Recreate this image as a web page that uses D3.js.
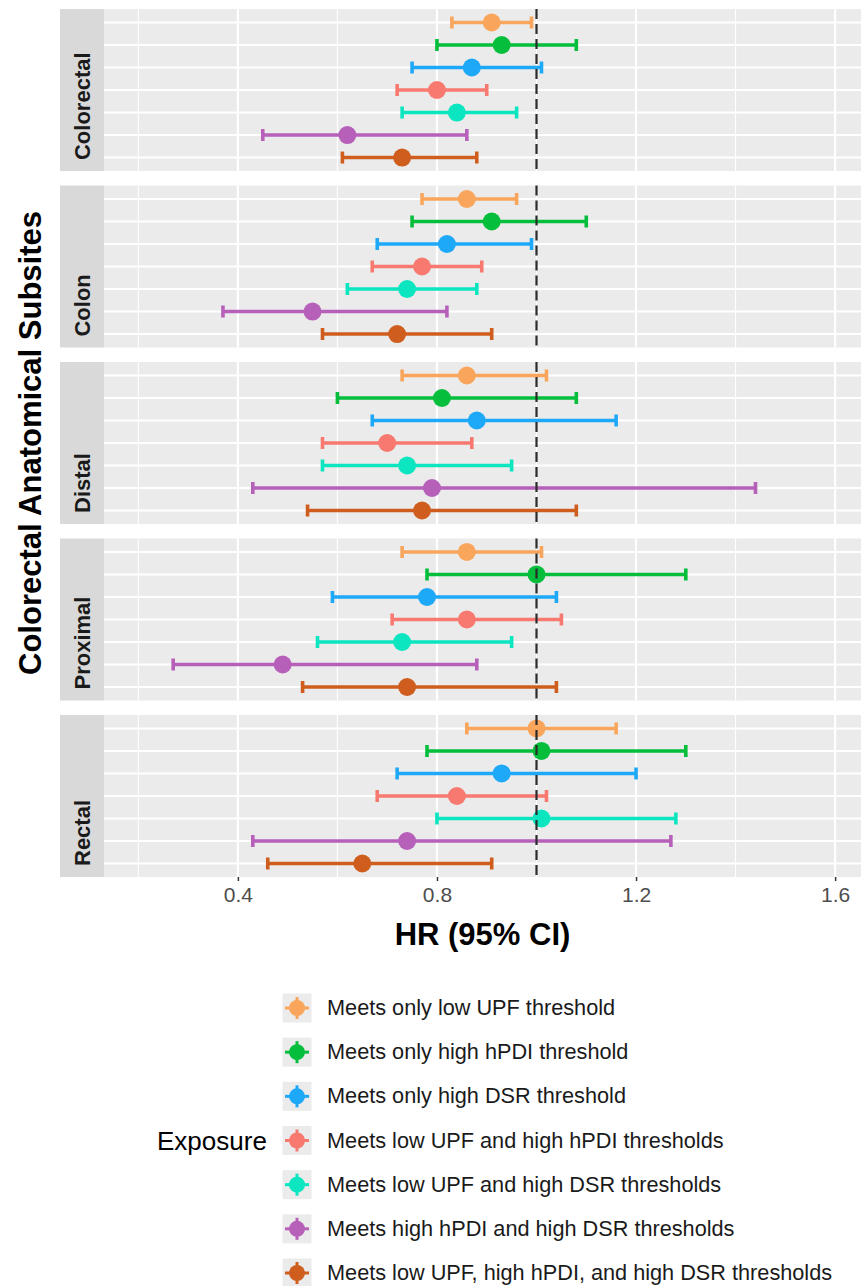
<!DOCTYPE html>
<html>
<head>
<meta charset="utf-8">
<script src="https://cdn.jsdelivr.net/npm/d3@7"></script>
<style>
  html, body { margin: 0; padding: 0; background: #ffffff; }
  svg { display: block; font-family: "Liberation Sans", Arial, Helvetica, sans-serif; }
</style>
</head>
<body>
<svg id="chart" width="861" height="1286"></svg>
<script>
// ---- data ----
const subsites = ["Colorectal", "Colon", "Distal", "Proximal", "Rectal"];
const exposures = [
  "Meets only low UPF threshold",
  "Meets only high hPDI threshold",
  "Meets only high DSR threshold",
  "Meets low UPF and high hPDI thresholds",
  "Meets low UPF and high DSR thresholds",
  "Meets high hPDI and high DSR thresholds",
  "Meets low UPF, high hPDI, and high DSR thresholds"
];
const exposureColors = ["#F9A65C", "#05BE3C", "#1EA8F8", "#F8796F", "#0BE6C0", "#B660BA", "#CF5E1E"];

// HR point estimates per subsite (rows follow exposures order)
const hrColorectal = [0.91, 0.93, 0.87, 0.80, 0.84, 0.62, 0.73];
const hrColon      = [0.86, 0.91, 0.82, 0.77, 0.74, 0.55, 0.72];
const hrDistal     = [0.86, 0.81, 0.88, 0.70, 0.74, 0.79, 0.77];
const hrProximal   = [0.86, 1.00, 0.78, 0.86, 0.73, 0.49, 0.74];
const hrRectal     = [1.00, 1.01, 0.93, 0.84, 1.01, 0.74, 0.65];

const loColorectal = [0.83, 0.80, 0.75, 0.72, 0.73, 0.45, 0.61];
const loColon      = [0.77, 0.75, 0.68, 0.67, 0.62, 0.37, 0.57];
const loDistal     = [0.73, 0.60, 0.67, 0.57, 0.57, 0.43, 0.54];
const loProximal   = [0.73, 0.78, 0.59, 0.71, 0.56, 0.27, 0.53];
const loRectal     = [0.86, 0.78, 0.72, 0.68, 0.80, 0.43, 0.46];

const hiColorectal = [0.99, 1.08, 1.01, 0.90, 0.96, 0.86, 0.88];
const hiColon      = [0.96, 1.10, 0.99, 0.89, 0.88, 0.82, 0.91];
const hiDistal     = [1.02, 1.08, 1.16, 0.87, 0.95, 1.44, 1.08];
const hiProximal   = [1.01, 1.30, 1.04, 1.05, 0.95, 0.88, 1.04];
const hiRectal     = [1.16, 1.30, 1.20, 1.02, 1.28, 1.27, 0.91];

const majorTicks = [0.4, 0.8, 1.2, 1.6];
const minorTicks = [0.2, 0.6, 1.0, 1.4];
const refLine = 1.0;

const hrBySite = [hrColorectal, hrColon, hrDistal, hrProximal, hrRectal];
const loBySite = [loColorectal, loColon, loDistal, loProximal, loRectal];
const hiBySite = [hiColorectal, hiColon, hiDistal, hiProximal, hiRectal];

const rows = [];
subsites.forEach((s, i) => {
  exposures.forEach((e, j) => {
    rows.push({site: s, exposure: e, hr: hrBySite[i][j], lo: loBySite[i][j], hi: hiBySite[i][j], color: exposureColors[j]});
  });
});

// ---- layout ----
const svg = d3.select("#chart");
const stripX0 = 60, panelX0 = 104, panelX1 = 861;
const x = d3.scaleLinear().domain([0.131, 1.652]).range([panelX0, panelX1]);
const facet = d3.scaleBand().domain(subsites).range([9, 877]).paddingInner(0.082);
const color = d3.scaleOrdinal().domain(exposures).range(exposureColors);

subsites.forEach((s) => {
  const top = facet(s), h = facet.bandwidth();
  const y = d3.scalePoint().domain(exposures).range([top, top + h]).padding(0.6);
  const g = svg.append("g");

  // strip
  g.append("rect").attr("x", stripX0).attr("y", top).attr("width", panelX0 - stripX0).attr("height", h).attr("fill", "#D9D9D9");
  g.append("text")
    .attr("transform", `translate(${(stripX0 + panelX0) / 2 + 8},${top + h - 11}) rotate(-90)`)
    .attr("text-anchor", "start")
    .attr("font-size", 22).attr("font-weight", "bold").attr("fill", "#1A1A1A")
    .text(s);

  // panel background
  g.append("rect").attr("x", panelX0).attr("y", top).attr("width", panelX1 - panelX0).attr("height", h).attr("fill", "#EBEBEB");

  // grid
  g.selectAll(".minor").data(minorTicks).enter().append("line")
    .attr("x1", d => x(d)).attr("x2", d => x(d)).attr("y1", top).attr("y2", top + h)
    .attr("stroke", "#ffffff").attr("stroke-width", 1.1);
  g.selectAll(".major").data(majorTicks).enter().append("line")
    .attr("x1", d => x(d)).attr("x2", d => x(d)).attr("y1", top).attr("y2", top + h)
    .attr("stroke", "#ffffff").attr("stroke-width", 2.2);
  g.selectAll(".hgrid").data(exposures).enter().append("line")
    .attr("x1", panelX0).attr("x2", panelX1).attr("y1", d => y(d)).attr("y2", d => y(d))
    .attr("stroke", "#ffffff").attr("stroke-width", 2.2);

  const data = rows.filter(r => r.site === s);
  const cap = 6;
  const sw = 3.6;
  const eb = g.selectAll(".eb").data(data).enter().append("g");
  eb.append("line").attr("x1", d => x(d.lo)).attr("x2", d => x(d.hi)).attr("y1", d => y(d.exposure)).attr("y2", d => y(d.exposure))
    .attr("stroke", d => color(d.exposure)).attr("stroke-width", sw);
  eb.append("line").attr("x1", d => x(d.lo)).attr("x2", d => x(d.lo)).attr("y1", d => y(d.exposure) - cap).attr("y2", d => y(d.exposure) + cap)
    .attr("stroke", d => color(d.exposure)).attr("stroke-width", sw);
  eb.append("line").attr("x1", d => x(d.hi)).attr("x2", d => x(d.hi)).attr("y1", d => y(d.exposure) - cap).attr("y2", d => y(d.exposure) + cap)
    .attr("stroke", d => color(d.exposure)).attr("stroke-width", sw);
  eb.append("circle").attr("cx", d => x(d.hr)).attr("cy", d => y(d.exposure)).attr("r", 9)
    .attr("fill", d => color(d.exposure));

  // reference line
  g.append("line").attr("x1", x(refLine)).attr("x2", x(refLine)).attr("y1", top).attr("y2", top + h)
    .attr("stroke", "#2B2B2B").attr("stroke-width", 2.2).attr("stroke-dasharray", "10,5");
});

// x axis
const lastBottom = facet(subsites[subsites.length - 1]) + facet.bandwidth();
const xAxis = d3.axisBottom(x).tickValues(majorTicks).tickSize(4).tickPadding(6).tickFormat(d3.format(".1f"));
const ax = svg.append("g").attr("transform", `translate(0,${lastBottom})`).call(xAxis);
ax.select(".domain").remove();
ax.selectAll(".tick line").attr("stroke", "#333333").attr("stroke-width", 1.5);
ax.selectAll(".tick text").attr("font-size", 21).attr("fill", "#4D4D4D").attr("font-family", "Liberation Sans, Arial, sans-serif");

// axis titles
svg.append("text").attr("x", (panelX0 + panelX1) / 2).attr("y", 945)
  .attr("text-anchor", "middle").attr("font-size", 31).attr("font-weight", "bold").attr("fill", "#000")
  .text("HR (95% CI)");
svg.append("text").attr("transform", `translate(41,${(9 + lastBottom) / 2}) rotate(-90)`)
  .attr("text-anchor", "middle").attr("font-size", 31).attr("font-weight", "bold").attr("fill", "#000")
  .text("Colorectal Anatomical Subsites");

// legend
const legY = d3.scalePoint().domain(exposures).range([1008, 1273]);
const leg = svg.append("g");
leg.append("text").attr("x", 157).attr("y", legY(exposures[3]) + 9)
  .attr("font-size", 26).attr("fill", "#000").text("Exposure");
const items = leg.selectAll(".li").data(exposures).enter().append("g")
  .attr("transform", d => `translate(297,${legY(d)})`);
items.append("rect").attr("x", -14.5).attr("y", -14.5).attr("width", 29).attr("height", 29).attr("fill", "#EBEBEB");
items.append("line").attr("x1", -12).attr("x2", 12).attr("y1", 0).attr("y2", 0).attr("stroke", d => color(d)).attr("stroke-width", 3);
items.append("line").attr("x1", 0).attr("x2", 0).attr("y1", -11).attr("y2", 11).attr("stroke", d => color(d)).attr("stroke-width", 3);
items.append("circle").attr("r", 8).attr("fill", d => color(d));
items.append("text").attr("x", 30).attr("y", 7).attr("font-size", 21.7).attr("fill", "#1A1A1A").text(d => d);
</script>
</body>
</html>
